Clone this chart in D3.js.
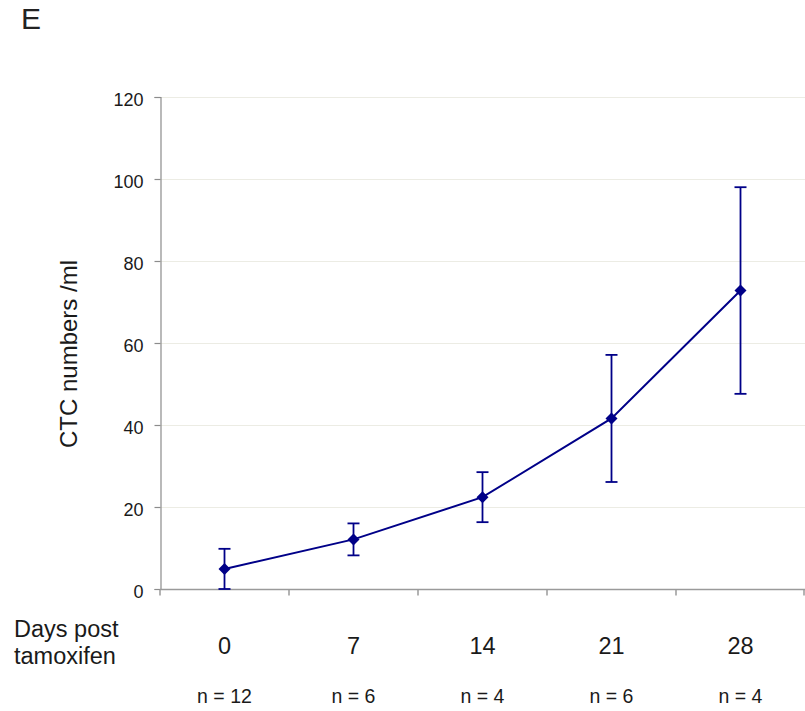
<!DOCTYPE html>
<html>
<head>
<meta charset="utf-8">
<script src="https://cdn.jsdelivr.net/npm/d3@7"></script>
<style>
  body { margin: 0; background: #fff; }
  svg { font-family: "Liberation Sans", Arial, sans-serif; }
</style>
</head>
<body>
<svg id="chart" width="805" height="711"></svg>
<script>
// Circulating tumour cell counts after tamoxifen induction
const days = ["0", "7", "14", "21", "28"];
const groupSizes = ["n = 12", "n = 6", "n = 4", "n = 6", "n = 4"];
const meanCTC = [4.9, 12.1, 22.4, 41.6, 72.8];
const errCTC = [4.9, 3.9, 6.1, 15.5, 25.2];
const yTicks = [0, 20, 40, 60, 80, 100, 120];

const svg = d3.select("#chart");
const plotLeft = 160, plotRight = 805, plotTop = 97, plotBottom = 589;

const x = d3.scaleBand().domain(days).range([plotLeft, plotRight]).padding(0);
const y = d3.scaleLinear().domain([0, 120]).range([plotBottom, plotTop]);

const navy = "#000088";
const ink = "#1a1a1a";

// panel letter
svg.append("text").attr("x", 21).attr("y", 29).attr("font-size", 30)
  .attr("fill", "#222").text("E");

// horizontal gridlines
svg.append("g").selectAll("line").data(yTicks.filter(d => d > 0)).join("line")
  .attr("x1", plotLeft).attr("x2", plotRight)
  .attr("y1", d => y(d) + 0.5).attr("y2", d => y(d) + 0.5)
  .attr("stroke", "#ececE4").attr("stroke-width", 1);

// y axis
const yAxis = svg.append("g").attr("transform", `translate(${plotLeft + 0.5},0)`)
  .call(d3.axisLeft(y).tickValues(yTicks).tickSize(6).tickPadding(11));
yAxis.select(".domain").attr("stroke", "#8c8c8c").attr("stroke-width", 1.2);
yAxis.selectAll(".tick line").attr("stroke", "#8c8c8c").attr("stroke-width", 1.2);
yAxis.selectAll(".tick text").attr("font-size", 18).attr("fill", ink)
  .attr("dy", "0.45em")
  .attr("font-family", "'Liberation Sans', Arial, sans-serif");

// x axis with boundary ticks between categories
const xAxisG = svg.append("g").attr("transform", `translate(0,${plotBottom + 0.5})`);
xAxisG.append("line").attr("x1", plotLeft).attr("x2", plotRight)
  .attr("stroke", "#9a9a9a").attr("stroke-width", 1.5);
const bounds = days.map(d => x(d)).concat([x(days[days.length - 1]) + x.bandwidth()]);
xAxisG.selectAll("line.b").data(bounds).join("line").attr("class", "b")
  .attr("x1", d => Math.min(d, plotRight - 1)).attr("x2", d => Math.min(d, plotRight - 1))
  .attr("y1", 0).attr("y2", 6)
  .attr("stroke", "#9a9a9a").attr("stroke-width", 1.5);

// category labels
svg.append("g").selectAll("text").data(days).join("text")
  .attr("x", d => x(d) + x.bandwidth() / 2).attr("y", 654)
  .attr("text-anchor", "middle").attr("font-size", 23.5).attr("fill", ink)
  .text(d => d);

svg.append("g").selectAll("text").data(days).join("text")
  .attr("x", d => x(d) + x.bandwidth() / 2).attr("y", 703)
  .attr("text-anchor", "middle").attr("font-size", 19.5).attr("fill", ink)
  .text((d, i) => groupSizes[i]);

svg.append("text").attr("x", 14).attr("y", 637).attr("font-size", 23.5).attr("fill", ink).text("Days post");
svg.append("text").attr("x", 14).attr("y", 664).attr("font-size", 23.5).attr("fill", ink).text("tamoxifen");

// y axis title
svg.append("text")
  .attr("transform", `translate(77,354) rotate(-90)`)
  .attr("text-anchor", "middle").attr("font-size", 24).attr("fill", ink)
  .text("CTC numbers /ml");

const pts = days.map((d, i) => ({ cx: x(d) + x.bandwidth() / 2, m: meanCTC[i], e: errCTC[i] }));

// error bars
const eb = svg.append("g").attr("stroke", navy).attr("stroke-width", 1.8);
eb.selectAll("line.v").data(pts).join("line").attr("class", "v")
  .attr("x1", p => p.cx).attr("x2", p => p.cx)
  .attr("y1", p => y(p.m + p.e)).attr("y2", p => y(Math.max(0, p.m - p.e)));
eb.selectAll("line.t").data(pts).join("line").attr("class", "t")
  .attr("x1", p => p.cx - 6).attr("x2", p => p.cx + 6)
  .attr("y1", p => y(p.m + p.e)).attr("y2", p => y(p.m + p.e));
eb.selectAll("line.bt").data(pts).join("line").attr("class", "bt")
  .attr("x1", p => p.cx - 6).attr("x2", p => p.cx + 6)
  .attr("y1", p => y(Math.max(0, p.m - p.e))).attr("y2", p => y(Math.max(0, p.m - p.e)));

// mean line
svg.append("path").datum(pts)
  .attr("d", d3.line().x(p => p.cx).y(p => y(p.m)))
  .attr("fill", "none").attr("stroke", navy).attr("stroke-width", 2);

// diamond markers
svg.append("g").selectAll("path").data(pts).join("path")
  .attr("transform", p => `translate(${p.cx},${y(p.m)})`)
  .attr("d", "M0,-6L6,0L0,6L-6,0Z")
  .attr("fill", navy);
</script>
</body>
</html>
